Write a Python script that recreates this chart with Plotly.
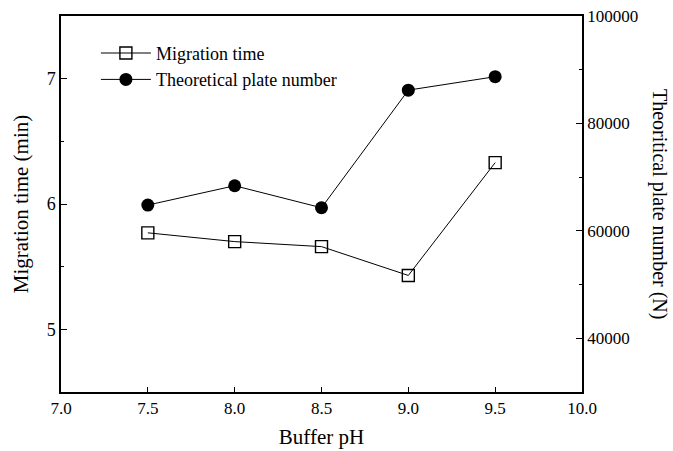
import plotly.graph_objects as go

ph = [7.5, 8.0, 8.5, 9.0, 9.5]
migration_time = [5.77, 5.70, 5.66, 5.43, 6.33]
plate_number = [64800, 68400, 64300, 86200, 88700]

x_ticks = [7.0, 7.5, 8.0, 8.5, 9.0, 9.5, 10.0]
x_labels = ["7.0", "7.5", "8.0", "8.5", "9.0", "9.5", "10.0"]
y_ticks = [5, 6, 7]
y2_ticks = [40000, 60000, 80000, 100000]
y2_labels = ["40000", "60000", "80000", "100000"]

FONT = "Liberation Serif"

fig = go.Figure()
fig.add_trace(go.Scatter(
    x=ph, y=migration_time, name="Migration time", mode="lines+markers",
    line=dict(color="black", width=1),
    marker=dict(symbol="square-open", size=12, color="black", line=dict(width=1.4)),
))
fig.add_trace(go.Scatter(
    x=ph, y=plate_number, name="Theoretical plate number", mode="lines+markers",
    yaxis="y2",
    line=dict(color="black", width=1),
    marker=dict(symbol="circle", size=13, color="black"),
))

fig.update_layout(
    width=673, height=451,
    margin=dict(l=61, r=91, t=16, b=59, autoexpand=False),
    paper_bgcolor="white", plot_bgcolor="white",
    font=dict(family=FONT, color="black", size=17),
    showlegend=True,
    legend=dict(x=0.067, y=0.95, xanchor="left", yanchor="top",
                bgcolor="rgba(0,0,0,0)", font=dict(family=FONT, size=18),
                tracegroupgap=0, itemwidth=50),
    xaxis=dict(range=[7.0, 10.0], tickvals=x_ticks, ticktext=x_labels,
               ticks="inside", ticklen=5, tickwidth=1, tickcolor="black",
               showline=True, linecolor="black", linewidth=1.5, mirror=True,
               showgrid=False, zeroline=False, automargin=False,
               title=dict(text="Buffer pH", font=dict(size=21), standoff=12),
               tickfont=dict(size=17)),
    yaxis=dict(range=[4.5, 7.5], tickvals=y_ticks, automargin=False,
               ticks="inside", ticklen=6, tickwidth=1, tickcolor="black",
               minor=dict(tickvals=[4.5, 5.5, 6.5], ticks="inside", ticklen=3, tickcolor="black"),
               showline=True, linecolor="black", linewidth=1.5,
               showgrid=False, zeroline=False,
               title=dict(text="Migration time (min)", font=dict(size=21), standoff=12),
               tickfont=dict(size=18)),
    yaxis2=dict(range=[30000, 100000], overlaying="y", side="right",
                tickvals=y2_ticks, ticktext=y2_labels, automargin=False,
                ticks="inside", ticklen=6, tickwidth=1, tickcolor="black",
                minor=dict(tickvals=[50000, 70000, 90000], ticks="inside", ticklen=3, tickcolor="black"),
                showline=True, linecolor="black", linewidth=1.5,
                showgrid=False, zeroline=False, tickfont=dict(size=17)),
)

fig.add_annotation(text="Theoritical plate number (N)", xref="paper", yref="paper",
                   x=1.0, y=0.5, xshift=78, textangle=90, showarrow=False,
                   font=dict(family=FONT, size=20), xanchor="center", yanchor="middle")

fig.write_html("out.html")
